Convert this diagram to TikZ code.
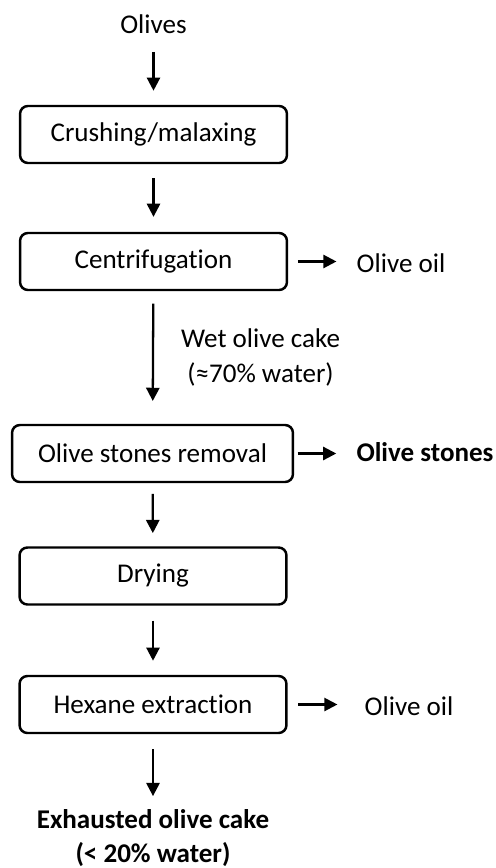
\documentclass[tikz,border=0pt]{standalone}
\usepackage{fontspec}
\setmainfont{Carlito}[RawFeature=-liga]
\usepackage{tikz}
\usetikzlibrary{arrows.meta,positioning,shapes,calc}

\begin{document}
\begin{tikzpicture}[x=0.02cm, y=-0.02cm,
  font=\fontsize{15.4}{19.5}\selectfont,
  stepbox/.style={rectangle, rounded corners=4.5pt, draw, line width=1.4pt, minimum width=5.34cm, minimum height=1.14cm},
  flow/.style={-{Triangle[length=7.5pt,width=7.5pt]}, line width=1.3pt}]
\useasboundingbox (0,0) rectangle (496,868);

% Input and first steps
\node (olives) at (153.5,24) {Olives};
\node[stepbox] (crush) at (153.5,134.5) {Crushing/malaxing};
\node[stepbox] (centri) at (153.5,261.5) {Centrifugation};
\node (oilA) at (401,263) {Olive oil};

% Olive stones removal
\node[stepbox, minimum width=5.62cm] (stones) at (152.5,453.5) {Olive stones removal};
\node[font=\fontsize{15.4}{19.5}\selectfont\bfseries] (stonesout) at (425,452) {Olive stones};

% Drying and extraction
\node[stepbox] (drying) at (153,576) {Drying};
\node[stepbox] (hexane) at (153,704.5) {Hexane extraction};
\node (oilB) at (409,706) {Olive oil};
\node[font=\fontsize{15.4}{19.5}\selectfont\bfseries, align=center] (exhaust) at (153,838) {Exhausted olive cake\\(< 20\% water)};

% Main flow
\draw[flow, shorten <=7pt, shorten >=8pt] (olives) -- (crush);
\draw[flow, shorten <=8pt, shorten >=8.5pt] (crush) -- (centri);
\draw[flow, shorten <=7pt, shorten >=13pt] (centri) -- node[right=12pt, align=center] {Wet olive cake\\(≈70\% water)} (stones);
\draw[flow, shorten <=6pt, shorten >=7.5pt] (stones) -- (drying);
\draw[flow, shorten <=8.5pt, shorten >=8pt] (drying) -- (hexane);
\draw[flow, shorten <=8.5pt, shorten >=4pt] (hexane) -- (exhaust);

% Side outputs
\draw[flow, shorten <=5.5pt, shorten >=8pt] (centri.east) -- (oilA.west |- centri.east);
\draw[flow, shorten <=2pt, shorten >=8pt] (stones.east) -- (stonesout.west |- stones.east);
\draw[flow, shorten <=6pt, shorten >=12pt] (hexane.east) -- (oilB.west |- hexane.east);

\end{tikzpicture}
\end{document}
